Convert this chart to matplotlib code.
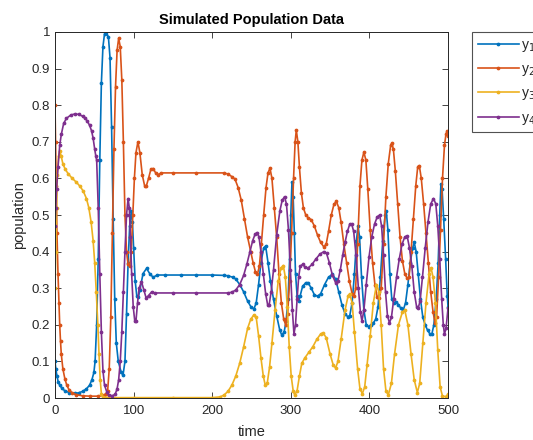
import matplotlib
matplotlib.use("Agg")
import matplotlib.pyplot as plt

plt.rcParams['font.family'] = ['Liberation Sans', 'DejaVu Sans']

# ---- population samples (time, value) for each species ----
t1 = [0, 1, 2.5, 4, 6, 9, 13, 18, 25, 30, 35, 40, 44, 47, 49.5, 51, 53, 55, 57, 59, 61, 63,
      65.5, 68, 70, 72, 74, 76, 78, 80.5, 84, 86.5, 89, 91, 93, 95, 97, 98.5, 100, 102, 104,
      106, 108, 112, 116.5, 121, 125, 130, 140, 160, 180, 200, 215, 220, 226, 230, 235, 240,
      245, 249, 253, 256, 259, 262, 265.5, 268, 271, 274, 278, 282, 286, 288.5, 291.5, 294,
      296.5, 298.5, 300, 301.5, 303, 304.5, 306, 308, 310, 312, 315, 319, 322, 326, 330, 334,
      338, 343, 348, 353, 357, 361, 365, 369, 372.5, 375, 378, 381, 383.5, 385.5, 387.5, 390,
      393, 396, 399, 402, 405, 408, 411, 414, 417, 420, 421.5, 423.5, 426, 428.5, 431, 434,
      437, 440, 443, 446, 449, 452, 455, 457, 459.5, 462, 465, 468, 471, 474, 477, 479.5, 482,
      485, 487.5, 489.5, 491, 492.5, 494.5, 497, 499, 500]
y1 = [0.10, 0.08, 0.06, 0.045, 0.035, 0.026, 0.019, 0.015, 0.013, 0.014, 0.018, 0.025, 0.035,
      0.05, 0.07, 0.10, 0.20, 0.38, 0.65, 0.86, 0.96, 0.995, 1.0, 0.985, 0.93, 0.74, 0.49, 0.27,
      0.15, 0.10, 0.072, 0.062, 0.10, 0.23, 0.37, 0.47, 0.51, 0.48, 0.41, 0.32, 0.28, 0.275,
      0.295, 0.34, 0.354, 0.338, 0.33, 0.336, 0.336, 0.336, 0.336, 0.336, 0.335, 0.334, 0.33,
      0.325, 0.31, 0.29, 0.265, 0.25, 0.243, 0.26, 0.31, 0.37, 0.41, 0.415, 0.37, 0.32, 0.27,
      0.225, 0.185, 0.172, 0.18, 0.21, 0.27, 0.38, 0.50, 0.59, 0.55, 0.45, 0.34, 0.28, 0.265,
      0.28, 0.305, 0.315, 0.315, 0.30, 0.282, 0.278, 0.285, 0.31, 0.33, 0.338, 0.325, 0.29,
      0.255, 0.23, 0.222, 0.225, 0.26, 0.34, 0.43, 0.47, 0.44, 0.33, 0.24, 0.20, 0.195, 0.20,
      0.205, 0.215, 0.25, 0.33, 0.43, 0.50, 0.51, 0.46, 0.34, 0.27, 0.26, 0.262, 0.255, 0.245,
      0.24, 0.26, 0.31, 0.37, 0.41, 0.425, 0.40, 0.34, 0.27, 0.22, 0.20, 0.185, 0.175, 0.175,
      0.20, 0.27, 0.37, 0.50, 0.585, 0.57, 0.49, 0.38, 0.28, 0.25]

t2 = [0, 0.7, 1.5, 2.5, 3.8, 5, 6, 7, 8, 10, 12.5, 15, 18, 22, 27, 35, 45, 55, 62, 65, 67, 69,
      71, 73, 75, 77, 79, 81, 83, 85, 87, 89, 91, 93, 95, 97, 99, 101, 103, 105.5, 108, 111,
      114, 116, 119, 122, 125, 128, 131, 135, 150, 180, 215, 220, 225, 229, 233, 237, 241, 245,
      249, 252, 255, 257.5, 260, 262.5, 265.5, 268.5, 271, 273.5, 276, 279, 282, 285, 288, 291,
      293.5, 296, 298.5, 301, 303.5, 305.5, 307, 309, 311, 313.5, 316, 319, 322, 326, 330, 334,
      338, 342, 345, 348, 351.5, 355, 358, 361, 364, 367.5, 371, 374.5, 378, 380.5, 382.5, 385,
      388, 390.5, 393, 395.5, 398, 401, 404, 407, 410, 412.5, 415, 418, 421, 424, 427, 428.5,
      430.5, 433, 436, 439, 442, 445, 448, 450.5, 453, 456, 459, 461.5, 463.5, 466, 469, 472,
      475, 478, 481, 483.5, 485.5, 488, 490.5, 493, 495.5, 497.5, 499, 500]
y2 = [0.80, 0.70, 0.58, 0.45, 0.34, 0.26, 0.20, 0.155, 0.12, 0.08, 0.053, 0.035, 0.022, 0.014,
      0.009, 0.006, 0.005, 0.005, 0.007, 0.012, 0.02, 0.08, 0.22, 0.45, 0.68, 0.85, 0.95, 0.983,
      0.96, 0.87, 0.70, 0.50, 0.40, 0.365, 0.36, 0.40, 0.50, 0.60, 0.67, 0.70, 0.67, 0.61, 0.58,
      0.578, 0.60, 0.625, 0.627, 0.615, 0.61, 0.615, 0.615, 0.615, 0.615, 0.612, 0.605, 0.598,
      0.575, 0.54, 0.49, 0.44, 0.40, 0.37, 0.345, 0.338, 0.36, 0.42, 0.50, 0.575, 0.615, 0.628,
      0.60, 0.52, 0.44, 0.34, 0.26, 0.215, 0.20, 0.23, 0.32, 0.45, 0.60, 0.70, 0.732, 0.70, 0.63,
      0.56, 0.52, 0.50, 0.493, 0.487, 0.47, 0.445, 0.425, 0.413, 0.42, 0.455, 0.50, 0.53, 0.537,
      0.52, 0.48, 0.42, 0.37, 0.32, 0.285, 0.278, 0.30, 0.42, 0.58, 0.65, 0.672, 0.65, 0.57,
      0.46, 0.37, 0.31, 0.275, 0.272, 0.30, 0.42, 0.55, 0.64, 0.69, 0.696, 0.68, 0.62, 0.53,
      0.44, 0.375, 0.34, 0.327, 0.33, 0.40, 0.49, 0.58, 0.632, 0.635, 0.60, 0.53, 0.45, 0.37,
      0.29, 0.235, 0.205, 0.22, 0.33, 0.46, 0.60, 0.69, 0.722, 0.73, 0.715]

t3 = [0, 1, 2, 3, 4.5, 6, 8, 10, 13, 17, 22, 27, 32, 36, 40, 43, 46, 48.5, 50.5, 52.5, 54.5,
      56, 57.5, 59, 61, 70, 100, 150, 200, 210, 215, 220, 225, 230, 235, 240, 245, 249, 253,
      256, 259, 262, 265, 267.5, 270, 273, 276, 280, 284, 287.5, 290.5, 293, 295.5, 298, 300.5,
      303, 305, 308, 311, 314, 318, 323, 328, 333, 338, 341, 345, 350, 354, 357, 360, 364, 369,
      373, 375, 378, 381, 385, 388, 391, 394, 397, 401, 405, 409, 412, 415, 418, 421, 424, 428,
      432, 437, 442, 445, 449, 453, 457, 461, 464, 468, 472, 476, 478.5, 481, 484, 487, 490,
      493, 497, 500]
y3 = [0.30, 0.40, 0.52, 0.61, 0.66, 0.675, 0.66, 0.64, 0.625, 0.612, 0.60, 0.59, 0.578, 0.565,
      0.545, 0.52, 0.48, 0.43, 0.37, 0.29, 0.20, 0.12, 0.05, 0.012, 0.003, 0.001, 0.001, 0.001,
      0.001, 0.003, 0.008, 0.018, 0.035, 0.06, 0.095, 0.14, 0.19, 0.215, 0.227, 0.22, 0.17,
      0.11, 0.06, 0.035, 0.04, 0.085, 0.15, 0.24, 0.32, 0.355, 0.362, 0.33, 0.25, 0.14, 0.06,
      0.02, 0.008, 0.02, 0.06, 0.095, 0.11, 0.125, 0.14, 0.16, 0.175, 0.178, 0.165, 0.12, 0.09,
      0.082, 0.10, 0.16, 0.24, 0.28, 0.285, 0.26, 0.18, 0.08, 0.025, 0.012, 0.03, 0.09, 0.17,
      0.26, 0.31, 0.29, 0.20, 0.08, 0.02, 0.008, 0.04, 0.12, 0.20, 0.235, 0.24, 0.20, 0.12,
      0.05, 0.015, 0.04, 0.15, 0.26, 0.34, 0.355, 0.33, 0.26, 0.13, 0.03, 0.005, 0.004, 0.01]

t4 = [0, 1, 2, 3.8, 6, 8, 11, 14.5, 20, 25, 30, 35, 38, 41, 44, 46.5, 48.5, 50.5, 52, 53, 55,
      57, 59, 61, 63, 66, 69, 73, 76.5, 79, 81, 83, 85, 87, 89, 91, 93, 94.5, 96, 97.5, 99.5,
      101.5, 103, 105, 107, 110, 113, 116, 119, 123, 127, 150, 180, 220, 225, 230, 235, 240,
      244, 248, 251.5, 254.5, 257, 259.5, 262, 265, 268, 270.5, 272.5, 275, 278, 282, 286, 289,
      292, 294.5, 297, 299.5, 302, 304, 306, 308, 310, 312, 315, 318, 322, 327, 332, 337, 342,
      345.5, 349, 353, 357, 360, 363, 366, 369, 372, 375, 377.5, 380, 383, 386, 388.5, 390.5,
      393, 396, 399.5, 403, 406.5, 410, 413, 415.5, 418, 420.5, 423, 425.5, 428, 431, 434.5,
      438, 441.5, 445, 448, 451, 454, 457, 460, 462, 464.5, 467.5, 471, 474.5, 478, 481.5,
      484.5, 487, 489.5, 492, 494, 495.5, 497.5, 500]
y4 = [0.47, 0.52, 0.57, 0.63, 0.69, 0.72, 0.75, 0.764, 0.773, 0.776, 0.775, 0.77, 0.765, 0.757,
      0.745, 0.73, 0.71, 0.68, 0.66, 0.65, 0.52, 0.34, 0.18, 0.075, 0.035, 0.016, 0.008, 0.006,
      0.01, 0.025, 0.05, 0.10, 0.18, 0.29, 0.40, 0.50, 0.545, 0.52, 0.44, 0.34, 0.25, 0.21,
      0.21, 0.26, 0.30, 0.318, 0.295, 0.273, 0.28, 0.29, 0.287, 0.287, 0.287, 0.287, 0.289,
      0.295, 0.31, 0.335, 0.365, 0.40, 0.43, 0.447, 0.452, 0.44, 0.40, 0.34, 0.285, 0.255,
      0.255, 0.29, 0.35, 0.445, 0.51, 0.54, 0.55, 0.53, 0.46, 0.35, 0.24, 0.175, 0.20, 0.27,
      0.33, 0.36, 0.365, 0.358, 0.355, 0.365, 0.38, 0.393, 0.40, 0.395, 0.37, 0.335, 0.315,
      0.32, 0.35, 0.39, 0.425, 0.455, 0.475, 0.475, 0.455, 0.39, 0.30, 0.235, 0.21, 0.24, 0.31,
      0.385, 0.44, 0.475, 0.495, 0.50, 0.47, 0.39, 0.29, 0.225, 0.205, 0.22, 0.27, 0.33, 0.38,
      0.42, 0.44, 0.443, 0.41, 0.36, 0.29, 0.25, 0.245, 0.265, 0.33, 0.41, 0.48, 0.53, 0.545,
      0.53, 0.47, 0.38, 0.27, 0.20, 0.175, 0.19, 0.245]

series = [(t1, y1, 'y$_1$', '#0072BD'),
          (t2, y2, 'y$_2$', '#D95319'),
          (t3, y3, 'y$_3$', '#EDB120'),
          (t4, y4, 'y$_4$', '#7E2F8E')]

x_ticks = [0, 100, 200, 300, 400, 500]
y_ticks = [0, 0.1, 0.2, 0.3, 0.4, 0.5, 0.6, 0.7, 0.8, 0.9, 1]
y_tick_labels = ['0', '0.1', '0.2', '0.3', '0.4', '0.5', '0.6', '0.7', '0.8', '0.9', '1']

axis_gray = '#262626'

fig = plt.figure(figsize=(5.33, 4.40), dpi=100)
ax = fig.add_axes([55 / 533, 42 / 440, 393 / 533, 366 / 440])

for t, y, name, color in series:
    ax.plot(t, y, color=color, lw=1.2, marker='.', ms=3.4, label=name)

ax.set_xlim(0, 500)
ax.set_ylim(0, 1)
ax.set_xticks(x_ticks)
ax.set_yticks(y_ticks)
ax.set_yticklabels(y_tick_labels)
ax.tick_params(direction='in', length=4, width=0.6, colors=axis_gray, labelsize=9.5,
               top=True, right=True)
ax.tick_params(axis='x', pad=5)
for s in ax.spines.values():
    s.set_color(axis_gray)
    s.set_linewidth(0.7)

ax.set_title('Simulated Population Data', fontsize=10.5, fontweight='bold', color='black', pad=6)
ax.set_xlabel('time', fontsize=10.5, color=axis_gray, labelpad=6)
ax.set_ylabel('population', fontsize=10.5, color=axis_gray, labelpad=4)

leg = ax.legend(loc='upper left', bbox_to_anchor=(472 / 533, 1 - 32 / 440),
                bbox_transform=fig.transFigure, frameon=True, fancybox=False,
                fontsize=10, handlelength=3.0, handletextpad=0.15, labelspacing=0.6,
                borderpad=0.4, borderaxespad=0, numpoints=1, markerscale=1.0)
leg.get_frame().set_edgecolor(axis_gray)
leg.get_frame().set_linewidth(0.8)
for txt in leg.get_texts():
    txt.set_color(axis_gray)

fig.savefig('out.png', dpi=100)
